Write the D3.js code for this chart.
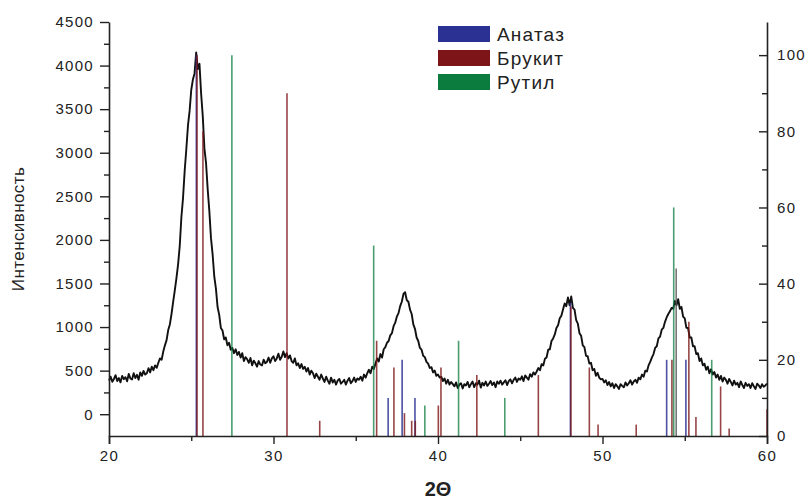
<!DOCTYPE html>
<html>
<head>
<meta charset="utf-8">
<script src="https://cdn.jsdelivr.net/npm/d3@7"></script>
<style>
  body { margin: 0; background: #fff; }
  text { font-family: "Liberation Sans", Arial, sans-serif; fill: #222; }
</style>
</head>
<body>
<div id="chart"></div>
<script>
// measured pattern, step 0.1 deg starting at 20
var angleStart = 20, angleStep = 0.1;
var intensity = [
  385,430,372,405,448,380,415,366,440,402,
  425,378,462,410,398,470,415,452,396,480,
  440,497,455,470,528,480,545,505,560,532,
  590,640,625,720,790,850,965,1030,1150,1290,
  1420,1560,1720,1930,2260,2480,2790,3040,3310,3480,
  3720,3840,3910,4150,3960,4020,3680,3420,3050,2880,
  2580,2330,2020,1830,1580,1440,1230,1140,990,960,
  860,880,790,820,740,760,700,745,680,715,
  650,700,610,655,630,590,645,560,615,585,
  545,610,570,560,625,585,600,650,590,640,
  665,610,640,695,625,660,720,655,700,640,
  675,610,590,640,560,585,530,575,520,545,
  490,530,455,500,470,415,465,430,395,455,
  410,370,430,385,350,420,365,395,340,385,
  405,350,370,395,340,385,415,355,380,420,
  370,410,395,430,385,455,420,470,510,470,
  545,520,580,640,605,690,650,745,770,820,
  840,905,930,1010,1050,1120,1160,1240,1290,1380,
  1400,1310,1290,1200,1150,1030,980,880,840,760,
  740,670,655,600,580,530,540,480,500,440,
  455,420,430,380,410,350,395,340,370,345,
  320,365,300,340,355,295,345,330,370,310,
  345,375,310,355,340,385,305,360,330,375,
  325,350,380,335,365,310,375,350,385,340,
  365,390,335,380,400,355,395,420,370,410,
  395,435,380,445,420,395,460,430,480,455,
  490,530,505,575,560,635,650,740,745,840,
  870,915,990,1020,1100,1130,1200,1270,1240,1340,
  1250,1350,1220,1200,1080,1040,930,900,790,770,
  670,665,580,590,505,520,440,475,420,400,
  405,365,390,335,370,320,355,300,345,320,
  290,345,325,310,365,330,355,390,340,375,
  395,360,420,400,455,430,500,490,560,600,
  650,690,760,780,870,890,970,990,1060,1110,
  1150,1180,1220,1210,1300,1250,1320,1210,1230,1120,
  1100,990,990,880,880,780,780,690,700,610,
  640,560,580,510,545,470,515,455,485,420,
  455,395,440,375,420,395,350,405,370,330,
  385,340,360,310,375,335,300,360,325,345,
  300,355,320,290,350,330,300,345,315,330,
  350
];

// reference lines [2theta, relative intensity %]
var anatase = [[25.31,100],[36.97,10],[37.82,20],[38.60,10],[48.05,35],[53.90,20],[55.07,20]];
var brookite = [[25.35,100],[25.71,80],[30.82,90],[32.81,4],[36.27,25],[37.32,18],[37.96,6],
  [38.40,4],[38.62,4],[40.02,8],[40.18,18],[42.36,16],[46.10,16],[48.08,34],[49.20,18],
  [49.73,3],[52.05,3],[54.22,20],[55.25,30],[55.68,5],[57.18,13],[57.70,2],[60.0,7]];
var rutile = [[27.47,100],[36.09,50],[39.20,8],[41.25,25],[44.06,10],[54.33,60],[56.64,20]];
var extraLines = [[54.48,44]];

var legendNames = ["Анатаз", "Брукит", "Рутил"];
var xTicks = [20, 30, 40, 50, 60], xMinor = [25, 35, 45, 55];
var yTicks = [0,500,1000,1500,2000,2500,3000,3500,4000,4500];
var yMinor = [250,750,1250,1750,2250,2750,3250,3750,4250];
var rTicks = [0,20,40,60,80,100], rMinor = [10,30,50,70,90];

var width = 808, height = 499;
var margin = {top: 22, right: 41, bottom: 63, left: 109};
var colors = {anatase: "#2b3192", brookite: "#7d1518", rutile: "#0c7c3e"};

var svg = d3.select("#chart").append("svg")
  .attr("width", width).attr("height", height);

var x = d3.scaleLinear().domain([20, 60]).range([margin.left, width - margin.right]);
var y = d3.scaleLinear().domain([-250, 4500]).range([height - margin.bottom, margin.top]);
var yr = d3.scaleLinear().domain([0, 108.7]).range([height - margin.bottom, margin.top]);

var pattern = intensity.map(function(v, i) { return [angleStart + i * angleStep, v]; });

svg.append("path")
  .datum(pattern)
  .attr("fill", "none")
  .attr("stroke", "#111")
  .attr("stroke-width", 1.9)
  .attr("stroke-linejoin", "round")
  .attr("d", d3.line().x(d => x(d[0])).y(d => y(d[1])));

function drawLines(data, color, opacity) {
  svg.append("g").selectAll("line")
    .data(data).enter().append("line")
    .attr("x1", d => x(d[0])).attr("x2", d => x(d[0]))
    .attr("y1", yr(0)).attr("y2", d => yr(d[1]))
    .attr("stroke", color)
    .attr("stroke-opacity", opacity)
    .attr("stroke-width", 1.6);
}
drawLines(extraLines, "#555", 0.8);
drawLines(anatase, colors.anatase, 0.85);
drawLines(brookite, colors.brookite, 0.8);
drawLines(rutile, colors.rutile, 0.75);

function styleAxis(g) {
  g.selectAll(".domain").attr("stroke", "#222").attr("stroke-width", 1.6);
  g.selectAll(".tick line").attr("stroke", "#222").attr("stroke-width", 1.4);
  g.selectAll("text").attr("font-size", 15).attr("letter-spacing", 1.3).attr("fill", "#222")
    .style("font-family", "'Liberation Sans', Arial, sans-serif");
}

// bottom
var gx = svg.append("g").attr("transform", `translate(0,${height - margin.bottom})`)
  .call(d3.axisBottom(x).tickValues(xTicks).tickSize(8).tickPadding(6).tickFormat(d3.format("d")));
styleAxis(gx);
var gxm = svg.append("g").attr("transform", `translate(0,${height - margin.bottom})`)
  .call(d3.axisBottom(x).tickValues(xMinor).tickSize(5).tickFormat(""));
styleAxis(gxm);
gxm.select(".domain").remove();

// left
var gy = svg.append("g").attr("transform", `translate(${margin.left},0)`)
  .call(d3.axisLeft(y).tickValues(yTicks).tickSize(9).tickPadding(6).tickFormat(d3.format("d")).tickSizeOuter(0));
styleAxis(gy);
var gym = svg.append("g").attr("transform", `translate(${margin.left},0)`)
  .call(d3.axisLeft(y).tickValues(yMinor).tickSize(5).tickFormat(""));
styleAxis(gym);
gym.select(".domain").remove();

// right (ticks point inward)
var gr = svg.append("g").attr("transform", `translate(${width - margin.right},0)`)
  .call(d3.axisLeft(yr).tickValues(rTicks).tickSize(8).tickFormat(d3.format("d")).tickSizeOuter(0));
styleAxis(gr);
gr.selectAll("text").attr("x", 10).attr("text-anchor", "start");
var grm = svg.append("g").attr("transform", `translate(${width - margin.right},0)`)
  .call(d3.axisLeft(yr).tickValues(rMinor).tickSize(5).tickFormat(""));
styleAxis(grm);
grm.select(".domain").remove();

// titles
svg.append("text")
  .attr("transform", `translate(24,${(margin.top + height - margin.bottom) / 2}) rotate(-90)`)
  .attr("text-anchor", "middle")
  .attr("font-size", 17)
  .attr("letter-spacing", 0.4)
  .text("Интенсивность");

svg.append("text")
  .attr("x", (margin.left + width - margin.right) / 2)
  .attr("y", 496)
  .attr("text-anchor", "middle")
  .attr("font-size", 20)
  .attr("font-weight", "bold")
  .text("2Θ");

// legend
var legendColors = [colors.anatase, colors.brookite, colors.rutile];
var legend = svg.append("g").attr("transform", "translate(438,26)");
legendNames.forEach(function(name, i) {
  legend.append("rect")
    .attr("x", 0).attr("y", i * 24)
    .attr("width", 52).attr("height", 16)
    .attr("fill", legendColors[i]);
  legend.append("text")
    .attr("x", 59).attr("y", i * 24 + 15)
    .attr("font-size", 19)
    .attr("letter-spacing", 1.2)
    .text(name);
});
</script>
</body>
</html>
